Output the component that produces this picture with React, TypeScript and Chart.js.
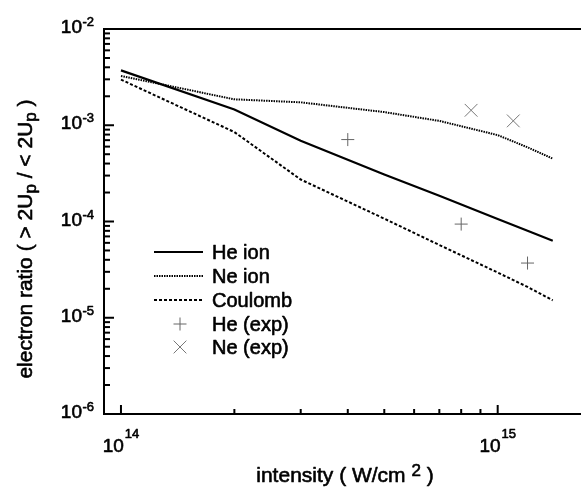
import { useEffect, useRef } from 'react';
import { Chart, registerables } from 'chart.js';

Chart.register(...registerables);

// ---- data ----
const theoryX = [1e14, 2e14, 3e14, 5e14, 7e14, 1e15, 1.2e15, 1.4e15];
const heIon = [3.72e-3, 1.46e-3, 6.9e-4, 3.08e-4, 1.85e-4, 1.06e-4, 8.0e-5, 6.3e-5];
const neIon = [3.25e-3, 1.86e-3, 1.73e-3, 1.37e-3, 1.11e-3, 7.9e-4, 5.9e-4, 4.5e-4];
const coulomb = [2.98e-3, 8.5e-4, 2.73e-4, 1.07e-4, 5.7e-5, 2.95e-5, 2.09e-5, 1.52e-5];
const heExpX = [4e14, 8e14, 1.2e15];
const heExpY = [7.1e-4, 9.4e-5, 3.7e-5];
const neExpX = [8.5e14, 1.1e15];
const neExpY = [1.43e-3, 1.11e-3];
const seriesNames = ['He ion', 'Ne ion', 'Coulomb', 'He (exp)', 'Ne (exp)'];
const xMajorTicks = [1e14, 1e15];
const yMajorTicks = [1e-6, 1e-5, 1e-4, 1e-3, 1e-2];
const xTitleParts = ['intensity ( W/cm ', '2', ' )'];
const yTitleParts = ['electron ratio ( > 2U', 'p', ' / < 2U', 'p', ' )'];

const FONT = '"Liberation Sans", Arial, Helvetica, sans-serif';

const zip = (xs: number[], ys: number[]) => xs.map((x, i) => ({ x, y: ys[i] }));

function txt(ctx: CanvasRenderingContext2D, s: string, x: number, y: number) {
  ctx.fillText(s, x, y);
  ctx.strokeText(s, x, y);
}

const paperPlugin = {
  id: 'paperAxes',
  afterDraw(chart: any) {
    const ctx: CanvasRenderingContext2D = chart.ctx;
    const { left, right, top, bottom } = chart.chartArea;
    const xs = chart.scales.x;
    const ys = chart.scales.y;
    ctx.save();
    ctx.strokeStyle = '#000';
    ctx.fillStyle = '#000';
    ctx.lineWidth = 2;
    ctx.beginPath();
    ctx.moveTo(right, top);
    ctx.lineTo(left, top);
    ctx.lineTo(left, bottom);
    ctx.lineTo(right, bottom);
    ctx.stroke();

    // y ticks (inward)
    const yDecMin = Math.floor(Math.log10(ys.min));
    const yDecMax = Math.ceil(Math.log10(ys.max));
    for (let e = yDecMin; e <= yDecMax; e++) {
      for (let m = 1; m <= 9; m++) {
        const v = m * Math.pow(10, e);
        if (v < ys.min * 0.999 || v > ys.max * 1.001) continue;
        const y = ys.getPixelForValue(v);
        const len = m === 1 ? 10 : 6;
        ctx.beginPath();
        ctx.moveTo(left, y);
        ctx.lineTo(left + len, y);
        ctx.stroke();
      }
    }
    // x ticks (inward)
    const xDecMin = Math.floor(Math.log10(xs.min));
    const xDecMax = Math.ceil(Math.log10(xs.max));
    for (let e = xDecMin; e <= xDecMax; e++) {
      for (let m = 1; m <= 9; m++) {
        const v = m * Math.pow(10, e);
        if (v < xs.min * 1.001 || v > xs.max * 0.999) continue;
        const x = xs.getPixelForValue(v);
        const len = m === 1 ? 9 : 5;
        ctx.beginPath();
        ctx.moveTo(x, bottom);
        ctx.lineTo(x, bottom - len);
        ctx.stroke();
      }
    }

    ctx.lineWidth = 0.6;
    ctx.lineJoin = 'round';
    // y tick labels
    ctx.textBaseline = 'alphabetic';
    for (const v of yMajorTicks) {
      const y = ys.getPixelForValue(v);
      const exp = String(Math.round(Math.log10(v)));
      ctx.font = `19px ${FONT}`;
      ctx.textAlign = 'right';
      txt(ctx, '10', 82, y + 4);
      ctx.font = `13px ${FONT}`;
      ctx.textAlign = 'left';
      txt(ctx, exp, 82.5, y - 3);
    }
    // x tick labels
    for (const v of xMajorTicks) {
      const x = xs.getPixelForValue(v);
      const exp = String(Math.round(Math.log10(v)));
      ctx.font = `19px ${FONT}`;
      const w1 = ctx.measureText('10').width;
      ctx.font = `13px ${FONT}`;
      const w2 = ctx.measureText(exp).width;
      const start = x - (w1 + w2 + 1) / 2;
      ctx.textAlign = 'left';
      ctx.font = `19px ${FONT}`;
      txt(ctx, '10', start, bottom + 38);
      ctx.font = `13px ${FONT}`;
      txt(ctx, exp, start + w1 + 1, bottom + 24);
    }

    // x title
    {
      ctx.font = `21px ${FONT}`;
      const a = ctx.measureText(xTitleParts[0]).width;
      const c = ctx.measureText(xTitleParts[2]).width;
      ctx.font = `17px ${FONT}`;
      const b = ctx.measureText(xTitleParts[1]).width;
      const total = a + b + c;
      const cx = 345;
      const base = 482;
      const x0 = cx - total / 2;
      ctx.textAlign = 'left';
      ctx.font = `21px ${FONT}`;
      txt(ctx, xTitleParts[0], x0, base);
      ctx.font = `17px ${FONT}`;
      txt(ctx, xTitleParts[1], x0 + a, base - 6);
      ctx.font = `21px ${FONT}`;
      txt(ctx, xTitleParts[2], x0 + a + b, base);
    }
    // y title (rotated)
    {
      ctx.save();
      ctx.translate(32, 239);
      ctx.rotate(-Math.PI / 2);
      const sizes = [21, 17, 21, 17, 21];
      const offs = [0, 4, 0, 4, 0];
      const widths = yTitleParts.map((t, i) => {
        ctx.font = `${sizes[i]}px ${FONT}`;
        return ctx.measureText(t).width;
      });
      const total = widths.reduce((s, w) => s + w, 0);
      let x0 = -total / 2;
      ctx.textAlign = 'left';
      yTitleParts.forEach((t, i) => {
        ctx.font = `${sizes[i]}px ${FONT}`;
        txt(ctx, t, x0, offs[i]);
        x0 += widths[i];
      });
      ctx.restore();
    }

    // legend
    const rowY = [252, 276, 300, 324, 347];
    const sx0 = 154;
    const sx1 = 203;
    chart.data.datasets.forEach((ds: any, i: number) => {
      const y = rowY[i];
      ctx.save();
      if (ds.showLine !== false) {
        ctx.strokeStyle = ds.borderColor;
        ctx.lineWidth = ds.borderWidth;
        ctx.setLineDash(ds.borderDash || []);
        ctx.beginPath();
        ctx.moveTo(sx0, y);
        ctx.lineTo(sx1, y);
        ctx.stroke();
      } else {
        ctx.strokeStyle = ds.pointBorderColor;
        ctx.lineWidth = ds.pointBorderWidth;
        const r = ds.pointRadius;
        const cx = 180;
        ctx.beginPath();
        if (ds.pointStyle === 'cross') {
          ctx.moveTo(cx - r, y);
          ctx.lineTo(cx + r, y);
          ctx.moveTo(cx, y - r);
          ctx.lineTo(cx, y + r);
        } else {
          const d = r * Math.SQRT1_2;
          ctx.moveTo(cx - d, y - d);
          ctx.lineTo(cx + d, y + d);
          ctx.moveTo(cx - d, y + d);
          ctx.lineTo(cx + d, y - d);
        }
        ctx.stroke();
      }
      ctx.restore();
      ctx.fillStyle = '#000';
      ctx.strokeStyle = '#000';
      ctx.lineWidth = 0.6;
      ctx.font = `20px ${FONT}`;
      ctx.textAlign = 'left';
      txt(ctx, ds.label, 212, y + 7);
    });
    ctx.restore();
  },
};

export default function App() {
  const ref = useRef<HTMLCanvasElement | null>(null);
  useEffect(() => {
    document.body.style.margin = '0';
    const canvas = ref.current;
    if (!canvas) return;
    const chart = new Chart(canvas, {
      type: 'line',
      data: {
        datasets: [
          {
            label: seriesNames[0],
            data: zip(theoryX, heIon),
            borderColor: '#000',
            borderWidth: 2.2,
            pointRadius: 0,
            fill: false,
          },
          {
            label: seriesNames[1],
            data: zip(theoryX, neIon),
            borderColor: '#000',
            borderWidth: 2,
            borderDash: [1.5, 1],
            pointRadius: 0,
            fill: false,
          },
          {
            label: seriesNames[2],
            data: zip(theoryX, coulomb),
            borderColor: '#000',
            borderWidth: 2,
            borderDash: [3, 2],
            pointRadius: 0,
            fill: false,
          },
          {
            label: seriesNames[3],
            data: zip(heExpX, heExpY),
            showLine: false,
            pointStyle: 'cross',
            pointRadius: 6.5,
            pointBorderColor: '#666',
            pointBackgroundColor: '#666',
            pointBorderWidth: 1,
          },
          {
            label: seriesNames[4],
            data: zip(neExpX, neExpY),
            showLine: false,
            pointStyle: 'crossRot',
            pointRadius: 9,
            pointBorderColor: '#777',
            pointBackgroundColor: '#777',
            pointBorderWidth: 1,
          },
        ] as any,
      },
      options: {
        responsive: false,
        animation: false,
        layout: { autoPadding: false, padding: { left: 104, top: 29, right: 0, bottom: 73 } },
        plugins: { legend: { display: false }, tooltip: { enabled: false } },
        scales: {
          x: { type: 'logarithmic', min: 9.015e13, max: 1.664e15, display: false },
          y: { type: 'logarithmic', min: 1e-6, max: 1e-2, display: false },
        },
        elements: { line: { tension: 0 } },
      } as any,
      plugins: [paperPlugin],
    });
    return () => chart.destroy();
  }, []);
  return (
    <div style={{ position: 'absolute', left: 0, top: 0, width: 581, height: 487, background: '#fff' }}>
      <canvas ref={ref} width={581} height={487} />
    </div>
  );
}
